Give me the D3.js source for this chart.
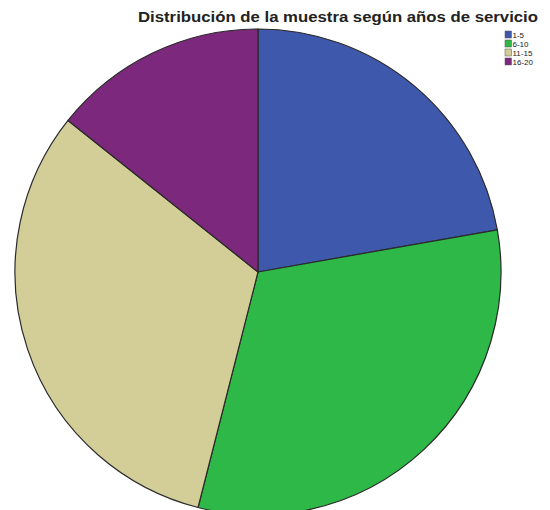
<!DOCTYPE html>
<html>
<head>
<meta charset="utf-8">
<script src="https://cdn.jsdelivr.net/npm/d3@7"></script>
<style>
  html, body { margin: 0; padding: 0; background: #fff; }
  svg { display: block; }
</style>
</head>
<body>
<div id="chart"></div>
<script>
// Service years groups and number of people in each
const categories = ["1-5", "6-10", "11-15", "16-20"];
const counts = [14, 20, 20, 9];
const colors = ["#3e58ac", "#2eb848", "#d3ce97", "#7c287d"];
const title = "Distribución de la muestra según años de servicio";

const width = 550, height = 510;
const cx = 258, cy = 272, radius = 243;

const svg = d3.select("#chart").append("svg")
  .attr("width", width)
  .attr("height", height);

const color = d3.scaleOrdinal().domain(categories).range(colors);

const pie = d3.pie().sort(null).value(d => d.value);
const arc = d3.arc().innerRadius(0).outerRadius(radius);

const data = categories.map((c, i) => ({ key: c, value: counts[i] }));

svg.append("g")
  .attr("transform", `translate(${cx},${cy})`)
  .selectAll("path")
  .data(pie(data))
  .join("path")
  .attr("d", arc)
  .attr("fill", d => color(d.data.key))
  .attr("stroke", "#2a2a2a")
  .attr("stroke-width", 1.2)
  .attr("stroke-linejoin", "round");

// Title: wide bold face, stretched to its box
svg.append("text")
  .attr("x", 138)
  .attr("y", 22)
  .attr("font-family", "Liberation Sans, Arial, sans-serif")
  .attr("font-weight", "bold")
  .attr("font-size", 14)
  .attr("textLength", 400)
  .attr("lengthAdjust", "spacingAndGlyphs")
  .attr("fill", "#222")
  .text(title);

const legend = svg.append("g").attr("transform", "translate(505,31)");
const rows = legend.selectAll("g")
  .data(categories)
  .join("g")
  .attr("transform", (d, i) => `translate(0,${i * 9})`);
rows.append("rect")
  .attr("width", 6.5)
  .attr("height", 7)
  .attr("fill", d => color(d))
  .attr("stroke", "#555")
  .attr("stroke-width", 0.5);
rows.append("text")
  .attr("x", 7.5)
  .attr("y", 6.5)
  .attr("font-family", "Liberation Sans, Arial, sans-serif")
  .attr("font-size", 8)
  .attr("fill", "#222")
  .text(d => d);
</script>
</body>
</html>
